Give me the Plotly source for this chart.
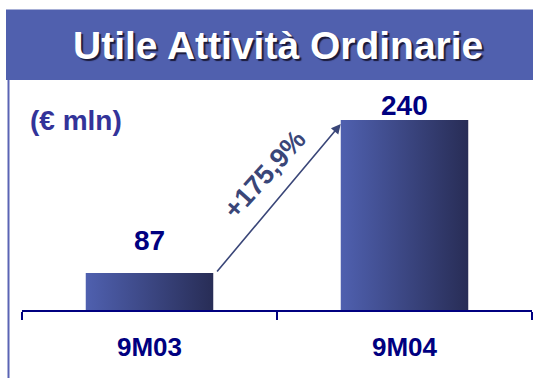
import plotly.graph_objects as go

# Data
categories = ["9M03", "9M04"]
values = [87, 240]
unit_label = "(€ mln)"
title_text = "Utile Attività Ordinarie"

# Styling
W, H = 533, 378
BAND_COLOR = "#5060AE"
NAVY = "#000080"
UNIT_COLOR = "#333399"
ARROW_COLOR = "#3A4678"
BAR_LIGHT = "#4F60AF"
BAR_DARK = "#282D56"
FONT = "Liberation Sans, Arial, sans-serif"
BAR_WIDTH = 0.5
Y_BASE = 50
Y_TOP = 270

# plot area in pixels
PL, PR, PT, PB = 22, 532, 90, 310


def px_x(p):
    return p / W


def px_y(p):
    return 1 - p / H


fig = go.Figure()

# bars drawn as filled polygons so they can carry a gradient
for i, (cat, v) in enumerate(zip(categories, values)):
    x0, x1 = i - BAR_WIDTH / 2, i + BAR_WIDTH / 2
    fig.add_trace(go.Scatter(
        x=[x0, x1, x1, x0, x0],
        y=[Y_BASE, Y_BASE, v, v, Y_BASE],
        mode="lines",
        fill="toself",
        line=dict(width=0),
        fillgradient=dict(type="horizontal",
                          colorscale=[[0, BAR_LIGHT], [1, BAR_DARK]]),
        name=cat,
        hoverinfo="skip",
        showlegend=False,
    ))

# value labels above bars
label_offsets = [33, 15]
for i, v in enumerate(values):
    fig.add_annotation(
        x=i, y=v, text=f"<b>{v}</b>", showarrow=False,
        yanchor="middle", yshift=label_offsets[i],
        font=dict(family=FONT, size=28, color=NAVY),
    )

# growth arrow from first bar's top-right corner to second bar's top-left
growth = (values[1] - values[0]) / values[0] * 100
fig.add_annotation(
    x=1 - BAR_WIDTH / 2, y=values[1] - 4,
    ax=BAR_WIDTH / 2 + 0.01, ay=values[0],
    axref="x", ayref="y", xref="x", yref="y",
    showarrow=True, arrowhead=2, arrowsize=1.2, arrowwidth=1.6,
    arrowcolor=ARROW_COLOR, text="", standoff=0, startstandoff=0,
)
growth_txt = f"+{growth:.1f}%".replace(".", ",")
fig.add_annotation(
    x=0.5, y=(values[0] + values[1]) / 2,
    text=f"<b>{growth_txt}</b>", showarrow=False,
    textangle=-48, xshift=-13, yshift=22,
    font=dict(family=FONT, size=27, color=ARROW_COLOR),
)

# unit label
fig.add_annotation(
    x=px_x(28), y=px_y(120), xref="paper", yref="paper",
    text=f"<b>{unit_label}</b>", showarrow=False,
    xanchor="left", yanchor="middle",
    font=dict(family=FONT, size=28, color=UNIT_COLOR),
)

# title band with shadowed title
fig.add_shape(type="rect", xref="paper", yref="paper",
              x0=px_x(6), x1=1, y0=px_y(80), y1=px_y(9.5),
              fillcolor=BAND_COLOR, line=dict(width=0), layer="below")
fig.add_annotation(
    x=px_x(278), y=px_y(45), xref="paper", yref="paper",
    text=f"<b>{title_text}</b>", showarrow=False,
    xanchor="center", yanchor="middle",
    font=dict(family=FONT, size=39, color="white",
              shadow="2px 2px 1px #1A1A3A"),
)

# left rule below the band
fig.add_shape(type="line", xref="paper", yref="paper",
              x0=px_x(8.5), x1=px_x(8.5), y0=0, y1=px_y(80),
              line=dict(color="#5A64B4", width=2))

fig.update_layout(
    width=W, height=H,
    margin=dict(l=0, r=0, t=0, b=0),
    paper_bgcolor="white", plot_bgcolor="white",
    showlegend=False,
    xaxis=dict(
        domain=[px_x(PL), px_x(PR)],
        range=[-0.5, len(categories) - 0.5],
        tickmode="array", tickvals=list(range(len(categories))),
        ticktext=[f"<b>{c}</b>" for c in categories],
        ticks="", showgrid=False, zeroline=False,
        showline=True, linecolor=NAVY, linewidth=2,
        tickfont=dict(family=FONT, size=26, color=NAVY),
        ticklabelstandoff=13,
        minor=dict(tickmode="array",
                   tickvals=[i - 0.5 for i in range(len(categories) + 1)],
                   ticks="outside", ticklen=8, tickwidth=2, tickcolor=NAVY,
                   showgrid=False),
        fixedrange=True,
    ),
    yaxis=dict(
        domain=[px_y(PB), px_y(PT)],
        range=[Y_BASE, Y_TOP],
        visible=False, fixedrange=True,
    ),
)

fig.write_html("out.html")
